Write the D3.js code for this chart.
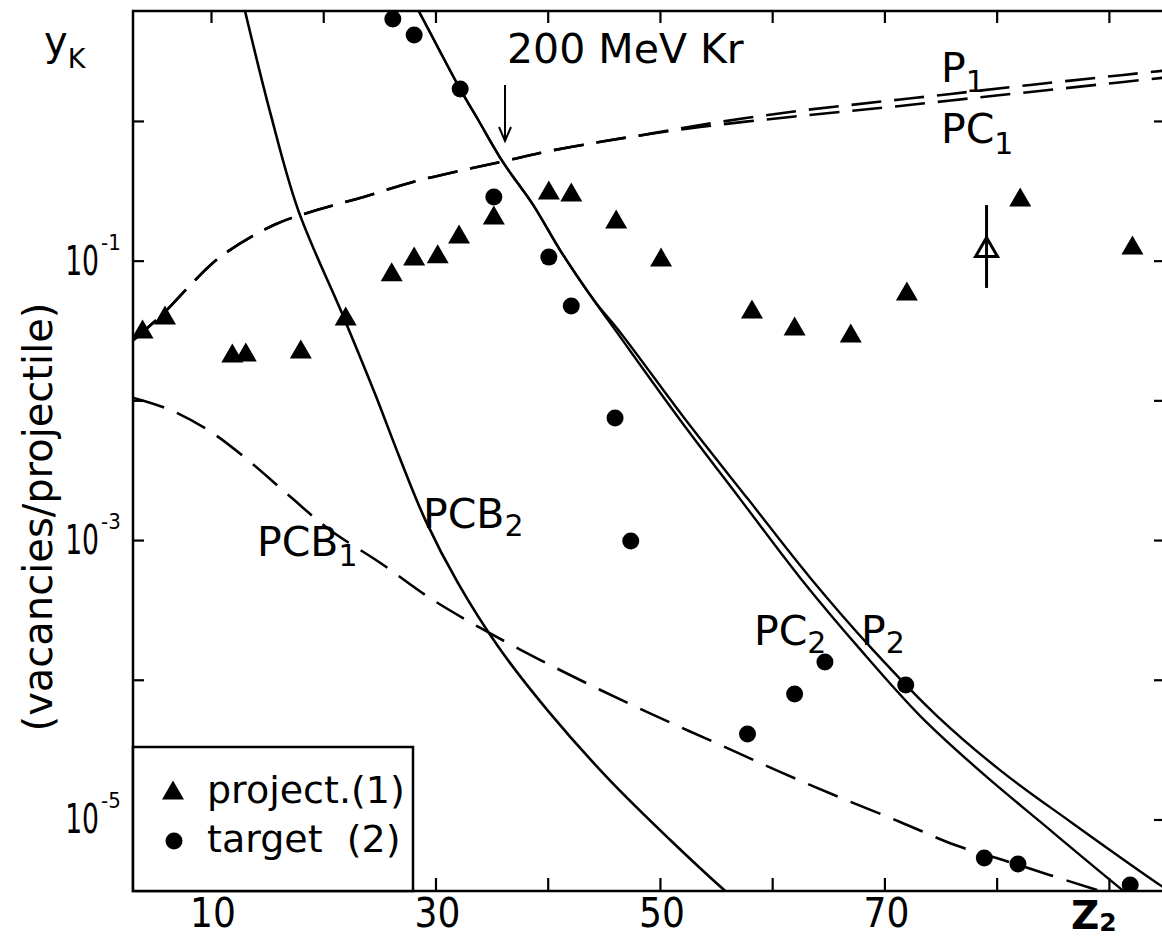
<!DOCTYPE html>
<html>
<head>
<meta charset="utf-8">
<script src="https://cdn.jsdelivr.net/npm/d3@7"></script>
<style>
  html, body { margin: 0; padding: 0; background: #fff; }
  svg { display: block; }
</style>
</head>
<body>
<svg id="chart" width="1162" height="937"></svg>
<script>
// K-shell vacancy yields per projectile, 200 MeV Kr on targets of atomic number Z2

// measured projectile (1) yields
const projZ = [3.9, 5.9, 11.9, 13.1, 18.0, 22.0, 26.1, 28.1, 30.2, 32.1, 35.2, 40.1, 42.1, 46.1, 50.1, 58.2, 62.0, 67.0, 72.0, 82.1, 92.1];
const projY = [0.0324, 0.0408, 0.0218, 0.0222, 0.0233, 0.0402, 0.0834, 0.108, 0.112, 0.155, 0.212, 0.321, 0.310, 0.199, 0.106, 0.0451, 0.0341, 0.0304, 0.0607, 0.286, 0.1295];
// projectile yield at the Kr-like target, with its error bar
const projOpenZ = [79.1];
const projOpenY = [0.125];
const projOpenLo = [0.0638];
const projOpenHi = [0.25];

// measured target (2) yields
const targZ = [26.2, 28.1, 32.2, 35.2, 40.1, 42.1, 46.0, 47.4, 57.8, 62.0, 64.7, 71.9, 78.9, 81.9, 91.9];
const targY = [5.37, 4.13, 1.69, 0.286, 0.106, 0.0474, 7.48e-3, 9.86e-4, 4.09e-5, 7.9e-5, 1.34e-4, 9.18e-5, 5.3e-6, 4.8e-6, 3.4e-6];

// calculated curves
const zP1 = [3.1, 5.9, 8.0, 10.8, 15.6, 19.5, 23.6, 28.0, 32.5, 36.2, 39.3, 44.1, 48.5, 53.6, 61.6, 67.0, 71.4, 75.9, 83.0, 91.3, 95.5];
const yP1 = [0.027, 0.043, 0.0648, 0.106, 0.180, 0.231, 0.286, 0.366, 0.446, 0.517, 0.590, 0.696, 0.794, 0.936, 1.160, 1.302, 1.425, 1.561, 1.810, 2.135, 2.318];
const zPC1 = [3.1, 5.9, 8.0, 10.8, 15.6, 19.5, 23.6, 28.0, 32.5, 36.2, 39.3, 44.1, 48.5, 53.6, 61.6, 67.0, 71.4, 75.9, 83.0, 91.3, 95.5];
const yPC1 = [0.027, 0.043, 0.0648, 0.106, 0.180, 0.231, 0.286, 0.366, 0.446, 0.517, 0.590, 0.696, 0.794, 0.906, 1.068, 1.179, 1.280, 1.402, 1.613, 1.902, 2.065];

const zP2 = [26.5, 28.5, 32.2, 33.8, 36.0, 38.7, 41.1, 44.1, 46.5, 52.3, 57.9, 63.4, 69.0, 74.7, 80.5, 86.6, 94.8, 97.3];
const yP2 = [12.0, 6.12, 1.69, 1.02, 0.509, 0.251, 0.119, 0.0523, 0.0304, 7.24e-3, 1.94e-3, 5.36e-4, 1.63e-4, 5.5e-5, 2.19e-5, 9.6e-6, 3.29e-6, 2.44e-6];
const zPC2 = [26.5, 28.5, 32.2, 33.8, 36.0, 38.7, 41.1, 44.1, 46.2, 51.8, 57.2, 62.5, 67.9, 73.2, 78.6, 83.9, 91.3, 95.5];
const yPC2 = [12.0, 6.12, 1.69, 1.02, 0.509, 0.251, 0.119, 0.0523, 0.0304, 7.24e-3, 1.94e-3, 5.36e-4, 1.63e-4, 5.5e-5, 2.19e-5, 9.6e-6, 3.08e-6, 1.67e-6];

const zPCB1 = [3.1, 6.4, 10.0, 13.5, 17.1, 20.6, 25.1, 29.5, 34.0, 39.3, 44.7, 50.0, 55.4, 60.7, 66.1, 71.4, 76.3, 80.0, 84.7, 89.2, 91.9];
const yPCB1 = [0.0104, 8.53e-3, 5.94e-3, 3.62e-3, 2.03e-3, 1.18e-3, 6.85e-4, 3.85e-4, 2.35e-4, 1.39e-4, 8.45e-5, 5.33e-5, 3.41e-5, 2.19e-5, 1.43e-5, 9.6e-6, 6.56e-6, 5.3e-6, 4.01e-6, 3.08e-6, 2.65e-6];

const zPCB2 = [11.96, 13.03, 15.26, 17.76, 21.77, 24.62, 26.75, 29.1, 32.0, 35.6, 40.1, 45.5, 50.92, 55.82, 58.94];
const yPCB2 = [14.2, 6.12, 1.16, 0.231, 0.0402, 0.0111, 4.0e-3, 1.39e-3, 4.93e-4, 1.72e-4, 5.89e-5, 1.92e-5, 7.13e-6, 3.08e-6, 1.91e-6];

// axis ticks
const xTicks = [10, 20, 30, 40, 50, 60, 70, 80, 90];
const xTickLabels = [10, 30, 50, 70];
const yTicks = [1, 1e-1, 1e-2, 1e-3, 1e-4, 1e-5];
const yLabelExps = [-1, -3, -5];

const svg = d3.select("#chart");
const W = 1162, H = 937;
const plot = { left: 133, top: 11, right: 1165, bottom: 891 };

svg.append("rect").attr("width", W).attr("height", H).attr("fill", "#fff");

const x = d3.scaleLinear().domain([3.05, 95]).range([plot.left, plot.right]);
const y = d3.scaleLog().domain([Math.pow(10, -5.512), Math.pow(10, 0.787)]).range([plot.bottom, plot.top]);

const FONT = "'DejaVu Sans', 'Liberation Sans', sans-serif";
const NARROW = "'Liberation Sans Narrow', 'DejaVu Sans Condensed', 'Liberation Sans', sans-serif";

svg.append("clipPath").attr("id", "plotClip")
  .append("rect")
  .attr("x", plot.left).attr("y", plot.top)
  .attr("width", plot.right - plot.left).attr("height", plot.bottom - plot.top);

// frame
svg.append("rect")
  .attr("x", plot.left).attr("y", plot.top)
  .attr("width", plot.right - plot.left).attr("height", plot.bottom - plot.top)
  .attr("fill", "none").attr("stroke", "#000").attr("stroke-width", 2.5);

// inward ticks on all four sides
function styleAxis(g) {
  g.select(".domain").remove();
  g.selectAll(".tick line").attr("stroke", "#000").attr("stroke-width", 2.2);
  g.selectAll(".tick text").remove();
}
svg.append("g").attr("transform", `translate(0,${plot.bottom})`)
  .call(d3.axisBottom(x).tickValues(xTicks).tickSize(-13)).call(styleAxis);
svg.append("g").attr("transform", `translate(0,${plot.top})`)
  .call(d3.axisTop(x).tickValues(xTicks).tickSize(-12)).call(styleAxis);
svg.append("g").attr("transform", `translate(${plot.left},0)`)
  .call(d3.axisLeft(y).tickValues(yTicks).tickSize(-11)).call(styleAxis);
svg.append("g").attr("transform", `translate(${plot.right},0)`)
  .call(d3.axisRight(y).tickValues(yTicks).tickSize(-11)).call(styleAxis);

// x tick labels
svg.append("g").selectAll("text").data(xTickLabels).join("text")
  .attr("x", d => x(d) + 2).attr("y", 927)
  .attr("text-anchor", "middle")
  .attr("font-family", NARROW).attr("font-size", 40)
  .text(d => d);

// Z2 axis title
const zt = svg.append("text").attr("x", x(90) - 38).attr("y", 929)
  .attr("font-family", FONT).attr("font-weight", "bold").attr("font-size", 39);
zt.append("tspan").text("Z");
zt.append("tspan").attr("font-size", 25).attr("dy", 2).text("2");

// y tick labels: powers of ten, a narrowed mantissa with its exponent beside it
const yLab = svg.append("g");
yLab.selectAll("text.mant").data(yLabelExps).join("text")
  .attr("class", "mant")
  .attr("transform", e => `translate(99,${y(Math.pow(10, e)) + 14}) scale(0.74,1)`)
  .attr("text-anchor", "end")
  .attr("font-family", NARROW).attr("font-size", 40)
  .text("10");
yLab.selectAll("text.exp").data(yLabelExps).join("text")
  .attr("class", "exp")
  .attr("x", 101).attr("y", e => y(Math.pow(10, e)) - 11)
  .attr("font-family", NARROW).attr("font-size", 22)
  .text(e => "-" + Math.abs(e));

// y title
const yk = svg.append("text").attr("x", 44).attr("y", 55)
  .attr("font-family", FONT).attr("font-size", 40);
yk.append("tspan").text("y");
yk.append("tspan").attr("font-size", 27).attr("dy", 13).text("K");

svg.append("text")
  .attr("transform", `translate(52,517) rotate(-90)`)
  .attr("text-anchor", "middle")
  .attr("font-family", FONT).attr("font-size", 40)
  .text("(vacancies/projectile)");

// curves
const line = d3.line()
  .x(d => x(d[0])).y(d => y(d[1]))
  .curve(d3.curveCatmullRom.alpha(0.5));

const curves = svg.append("g").attr("clip-path", "url(#plotClip)")
  .attr("fill", "none").attr("stroke", "#000");

function drawCurve(zs, ys, width, dash) {
  curves.append("path")
    .attr("d", line(d3.zip(zs, ys)))
    .attr("stroke-width", width)
    .attr("stroke-dasharray", dash || null);
}
drawCurve(zPCB2, yPCB2, 2.6);
drawCurve(zP2, yP2, 2.4);
drawCurve(zPC2, yPC2, 2.4);
drawCurve(zP1, yP1, 2.6, "30,13");
drawCurve(zPC1, yPC1, 2.6, "30,13");
drawCurve(zPCB1, yPCB1, 2.6, "32,14");

// markers
const triW = 22, triH = 19;
const triPath = `M0,${-triH / 2}L${triW / 2},${triH / 2}L${-triW / 2},${triH / 2}Z`;

const marks = svg.append("g").attr("clip-path", "url(#plotClip)");
marks.selectAll("path.proj").data(d3.zip(projZ, projY)).join("path")
  .attr("class", "proj")
  .attr("transform", d => `translate(${x(d[0])},${y(d[1])})`)
  .attr("d", triPath).attr("fill", "#000");

marks.selectAll("circle.targ").data(d3.zip(targZ, targY)).join("circle")
  .attr("class", "targ")
  .attr("cx", d => x(d[0])).attr("cy", d => y(d[1]))
  .attr("r", 8.5).attr("fill", "#000");

// open projectile point with error bar
const open = d3.zip(projOpenZ, projOpenY, projOpenLo, projOpenHi);
marks.selectAll("path.open").data(open).join("path")
  .attr("class", "open")
  .attr("transform", d => `translate(${x(d[0])},${y(d[1])})`)
  .attr("d", triPath).attr("fill", "#fff").attr("stroke", "#000").attr("stroke-width", 3);
marks.selectAll("line.err").data(open).join("line")
  .attr("class", "err")
  .attr("x1", d => x(d[0])).attr("x2", d => x(d[0]))
  .attr("y1", d => y(d[3])).attr("y2", d => y(d[2]))
  .attr("stroke", "#000").attr("stroke-width", 3);

// curve labels
function subLabel(px, py, main, sub, size, subSize, subDy) {
  const t = svg.append("text").attr("x", px).attr("y", py)
    .attr("font-family", FONT).attr("font-size", size);
  t.append("tspan").text(main);
  t.append("tspan").attr("font-size", subSize).attr("dy", subDy).text(sub);
}
subLabel(941, 82, "P", "1", 41, 30, 10);
subLabel(941, 143, "PC", "1", 41, 30, 11);
subLabel(423, 528, "PCB", "2", 41, 30, 8);
subLabel(257, 556, "PCB", "1", 41, 30, 10);
subLabel(754, 645, "PC", "2", 41, 30, 8);
subLabel(861, 645, "P", "2", 41, 30, 8);

// beam annotation
svg.append("text").attr("x", 507).attr("y", 63)
  .attr("font-family", FONT).attr("font-size", 41)
  .text("200 MeV Kr");
svg.append("path")
  .attr("d", `M505,85V141M499,127L505,141L511,127`)
  .attr("fill", "none").attr("stroke", "#000").attr("stroke-width", 2);

// legend
const leg = svg.append("g");
leg.append("rect")
  .attr("x", plot.left).attr("y", 747)
  .attr("width", 413 - plot.left).attr("height", plot.bottom - 747)
  .attr("fill", "#fff").attr("stroke", "#000").attr("stroke-width", 2.5);
leg.append("path").attr("transform", "translate(173,790)").attr("d", triPath).attr("fill", "#000");
leg.append("circle").attr("cx", 174).attr("cy", 841).attr("r", 8.5).attr("fill", "#000");
leg.append("text").attr("x", 207).attr("y", 803)
  .attr("font-family", FONT).attr("font-size", 38).text("project.(1)");
leg.append("text").attr("x", 207).attr("y", 852)
  .attr("font-family", FONT).attr("font-size", 38).text("target\u00a0\u00a0(2)");
</script>
</body>
</html>
